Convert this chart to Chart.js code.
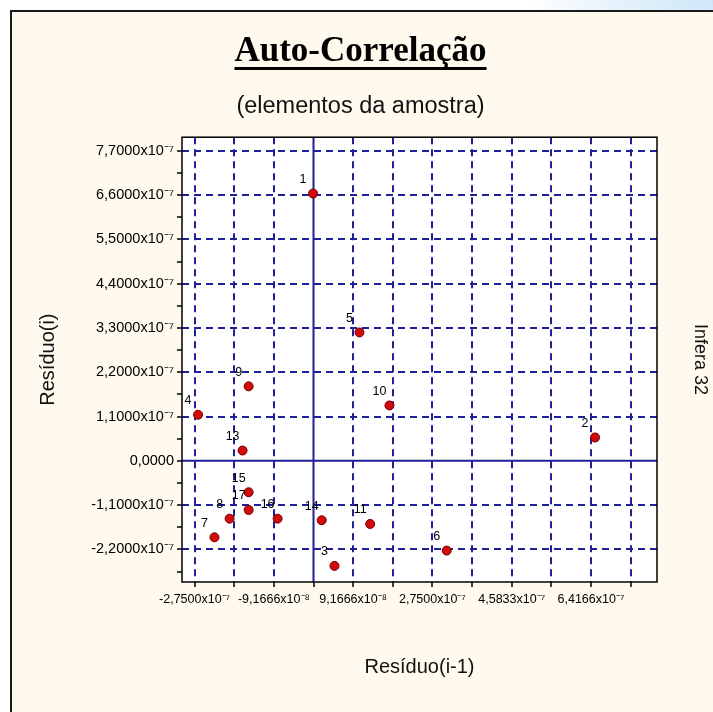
<!DOCTYPE html>
<html>
<head>
<meta charset="utf-8">
<script src="https://cdn.jsdelivr.net/npm/chart.js@4.4.1/dist/chart.umd.min.js"></script>
<style>
  html, body { margin: 0; padding: 0; width: 713px; height: 712px; overflow: hidden; }
  body { background: radial-gradient(ellipse 190px 70px at 100% 0%, #cde6f8 0%, #e3f1fb 45%, #ffffff 100%); }
  #frame { position: absolute; left: 10px; top: 10px; width: 720px; height: 720px;
           border-left: 2px solid #1a1a1a; border-top: 2px solid #1a1a1a; background: #fff9ee; }
  #chart { position: absolute; left: 0; top: 0; }
</style>
</head>
<body>
<div id="frame"></div>
<canvas id="chart" width="713" height="712"></canvas>
<script>
// elementos da amostra (o ponto 12 não aparece no gráfico)
const pointNames = ["1", "2", "3", "4", "5", "6", "7", "8", "9", "10", "11", "13", "14", "15", "16", "17"];
const residuoAnterior = [-0.01e-7, 6.51e-7, 0.485e-7, -2.67e-7, 1.063e-7, 3.08e-7, -2.29e-7, -1.94e-7,
  -1.50e-7, 1.756e-7, 1.31e-7, -1.64e-7, 0.19e-7, -1.50e-7, -0.83e-7, -1.50e-7];
const residuoAtual = [6.64e-7, 0.58e-7, -2.61e-7, 1.145e-7, 3.19e-7, -2.23e-7, -1.90e-7, -1.436e-7,
  1.85e-7, 1.376e-7, -1.568e-7, 0.256e-7, -1.476e-7, -0.78e-7, -1.436e-7, -1.22e-7];

// ticks ("" = marca secundária, sem rótulo nem linha de grade)
const xTickValues = [-2.75e-7, -1.8333e-7, -9.1666e-8, 0, 9.1666e-8, 1.8333e-7, 2.75e-7,
  3.6666e-7, 4.5833e-7, 5.5e-7, 6.4166e-7, 7.3333e-7];
const xTickLabels = ["-2,7500x10⁻⁷", "", "-9,1666x10⁻⁸", "", "9,1666x10⁻⁸", "",
  "2,7500x10⁻⁷", "", "4,5833x10⁻⁷", "", "6,4166x10⁻⁷", ""];
const yTickValues = [-2.75e-7, -2.2e-7, -1.65e-7, -1.1e-7, -0.55e-7, 0, 0.55e-7, 1.1e-7, 1.65e-7,
  2.2e-7, 2.75e-7, 3.3e-7, 3.85e-7, 4.4e-7, 4.95e-7, 5.5e-7, 6.05e-7, 6.6e-7, 7.15e-7, 7.7e-7];
const yTickLabels = ["", "-2,2000x10⁻⁷", "", "-1,1000x10⁻⁷", "", "0,0000", "", "1,1000x10⁻⁷", "",
  "2,2000x10⁻⁷", "", "3,3000x10⁻⁷", "", "4,4000x10⁻⁷", "", "5,5000x10⁻⁷", "", "6,6000x10⁻⁷", "",
  "7,7000x10⁻⁷"];

const gridBlue = "#1f1f98";
const sansFamily = "'Liberation Sans', Arial";

const points = residuoAnterior.map((x, i) => ({ x: x, y: residuoAtual[i] }));

function gridColor(labels) {
  return (c) => {
    if (!c.tick) return gridBlue;
    if (c.tick.value === 0 || labels[c.index] === "" && c.scale.axis === "y") return "rgba(0,0,0,0)";
    return gridBlue;
  };
}

const plotDecor = {
  id: "plotDecor",
  beforeDraw(chart) {
    const { ctx, chartArea: a } = chart;
    ctx.save();
    ctx.fillStyle = "#ffffff";
    ctx.fillRect(a.left, a.top, a.width, a.height);
    ctx.restore();
  },
  beforeDatasetsDraw(chart) {
    const { ctx, chartArea: a, scales } = chart;
    const x0 = scales.x.getPixelForValue(0);
    const y0 = scales.y.getPixelForValue(0);
    ctx.save();
    ctx.strokeStyle = gridBlue;
    ctx.lineWidth = 2;
    ctx.beginPath();
    ctx.moveTo(x0, a.top); ctx.lineTo(x0, a.bottom);
    ctx.moveTo(a.left, y0); ctx.lineTo(a.right, y0);
    ctx.stroke();
    ctx.strokeStyle = "#000";
    ctx.lineWidth = 1.5;
    ctx.strokeRect(a.left, a.top, a.width, a.height);
    ctx.restore();
  },
  afterDatasetsDraw(chart) {
    const ctx = chart.ctx;
    const meta = chart.getDatasetMeta(0);
    ctx.save();
    ctx.fillStyle = "#000";
    ctx.font = "12.5px " + sansFamily;
    ctx.textAlign = "center";
    ctx.textBaseline = "middle";
    meta.data.forEach((pt, i) => {
      ctx.fillText(pointNames[i], pt.x - 10, pt.y - 14);
    });
    ctx.restore();
  },
  afterDraw(chart) {
    const tb = chart.titleBlock;
    if (!tb) return;
    const ctx = chart.ctx;
    ctx.save();
    ctx.font = "bold 35px 'Liberation Serif', 'Times New Roman', serif";
    const w = ctx.measureText("Auto-Correlação").width;
    const cx = tb.left + tb.width / 2;
    const cy = tb.top + 31 + 21;
    ctx.fillStyle = "#000";
    ctx.fillRect(cx - w / 2, cy + 15, w, 3);
    ctx.restore();
  }
};

new Chart(document.getElementById("chart"), {
  type: "scatter",
  data: {
    datasets: [{
      data: points,
      pointRadius: 4.5,
      pointBackgroundColor: "#d30a0a",
      pointBorderColor: "#6e0000",
      pointBorderWidth: 1
    }]
  },
  options: {
    responsive: false,
    animation: false,
    layout: { padding: { left: 8, right: 0, top: 0, bottom: 0 } },
    plugins: {
      legend: { display: false },
      tooltip: { enabled: false },
      title: {
        display: true,
        text: "Auto-Correlação",
        color: "#000",
        font: { family: "'Liberation Serif', 'Times New Roman', serif", size: 35, weight: "bold", lineHeight: 1.2 },
        padding: { top: 31, bottom: 0 }
      },
      subtitle: {
        display: true,
        text: "(elementos da amostra)",
        color: "#111",
        font: { family: sansFamily, size: 23.5, lineHeight: 1.2 },
        padding: { top: 19, bottom: 17 }
      }
    },
    scales: {
      x: {
        type: "linear",
        min: -3.041e-7,
        max: 7.943e-7,
        afterBuildTicks: (s) => { s.ticks = xTickValues.map(v => ({ value: v })); },
        afterFit: (s) => { s.height = 130; },
        ticks: {
          autoSkip: false, maxRotation: 0, minRotation: 0, padding: 5,
          color: "#000", font: { family: sansFamily, size: 12.5 },
          callback: (v, i) => xTickLabels[i]
        },
        grid: {
          color: gridColor(xTickLabels),
          lineWidth: 2,
          tickColor: "#000",
          tickLength: 5,
          tickWidth: 1.5
        },
        border: { display: false, dash: [7, 5] },
        title: {
          display: true,
          text: "Resíduo(i-1)",
          color: "#111",
          font: { family: sansFamily, size: 20, lineHeight: 1.2 },
          padding: { top: 0, bottom: 33 }
        }
      },
      y: {
        type: "linear",
        position: "left",
        min: -3.01e-7,
        max: 8.04e-7,
        afterBuildTicks: (s) => { s.ticks = yTickValues.map(v => ({ value: v })); },
        afterFit: (s) => { s.width = 174; },
        ticks: {
          autoSkip: false, padding: 3,
          color: "#000", font: { family: sansFamily, size: 14.5 },
          callback: (v, i) => yTickLabels[i]
        },
        grid: {
          color: gridColor(yTickLabels),
          lineWidth: 2,
          tickColor: "#000",
          tickLength: 5,
          tickWidth: 1.5
        },
        border: { display: false, dash: [7, 5] },
        title: {
          display: true,
          text: "Resíduo(i)",
          color: "#111",
          font: { family: sansFamily, size: 20, lineHeight: 1.2 },
          padding: { top: 28, bottom: 0 }
        }
      },
      y2: {
        type: "linear",
        position: "right",
        afterFit: (s) => { s.width = 56; },
        ticks: { display: false },
        grid: { display: false },
        border: { display: false },
        title: {
          display: true,
          text: "Infera 32",
          color: "#111",
          font: { family: sansFamily, size: 18, lineHeight: 1.2 },
          padding: { top: 2, bottom: 0 }
        }
      }
    }
  },
  plugins: [plotDecor]
});
</script>
</body>
</html>
